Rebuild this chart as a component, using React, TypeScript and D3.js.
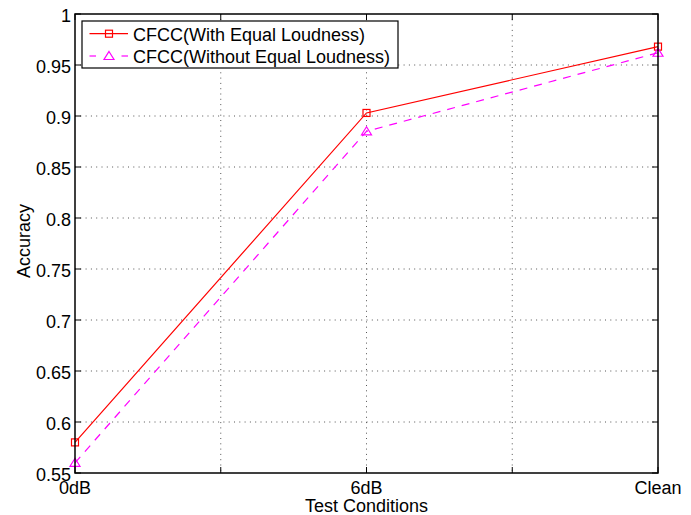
import React from "react";
import * as d3 from "d3";

const conditions = ["0dB", "6dB", "Clean"];
const withEqualLoudness = [0.58, 0.903, 0.968];
const withoutEqualLoudness = [0.56, 0.885, 0.962];
const yTicks = [0.55, 0.6, 0.65, 0.7, 0.75, 0.8, 0.85, 0.9, 0.95, 1];
const yTickLabels = ["0.55", "0.6", "0.65", "0.7", "0.75", "0.8", "0.85", "0.9", "0.95", "1"];
const xTicks = [0, 0.5, 1, 1.5, 2];
const seriesNames = ["CFCC(With Equal Loudness)", "CFCC(Without Equal Loudness)"];

const W = 691;
const H = 515;
const m = { left: 75, top: 14, right: 658, bottom: 473 };
const font = "Liberation Sans, Arial, Helvetica, sans-serif";
const fs = 18;

export default function App() {
  const x = d3.scaleLinear().domain([0, 2]).range([m.left, m.right]);
  const y = d3.scaleLinear().domain([0.55, 1]).range([m.bottom, m.top]);
  const line = d3
    .line<number>()
    .x((_, i) => x(i))
    .y((d) => y(d));

  // open triangle marker centred on (cx, cy)
  const tri = (cx: number, cy: number) =>
    `M${cx},${cy - 4.5}L${cx + 5},${cy + 3.5}L${cx - 5},${cy + 3.5}Z`;

  const tickLen = 6;
  const labelFor = (v: number) =>
    Math.abs(v - Math.round(v)) < 1e-9 ? conditions[Math.round(v)] : "";

  return (
    <svg
      width={W}
      height={H}
      style={{ position: "absolute", left: 0, top: 0, background: "#fff" }}
      fontFamily={font}
    >
      <rect x={0} y={0} width={W} height={H} fill="#fff" />
      {/* grid */}
      <g stroke="#555" strokeWidth={1} strokeDasharray="1,4.3">
        {yTicks.slice(1, -1).map((t) => (
          <line key={"gy" + t} x1={m.left} x2={m.right} y1={y(t)} y2={y(t)} />
        ))}
        {xTicks.slice(1, -1).map((t) => (
          <line key={"gx" + t} x1={x(t)} x2={x(t)} y1={m.top} y2={m.bottom} />
        ))}
      </g>
      {/* tick marks */}
      <g stroke="#000" strokeWidth={1}>
        {yTicks.map((t) => (
          <g key={"ty" + t}>
            <line x1={m.left} x2={m.left + tickLen} y1={y(t)} y2={y(t)} />
            <line x1={m.right} x2={m.right - tickLen} y1={y(t)} y2={y(t)} />
          </g>
        ))}
        {xTicks.map((t) => (
          <g key={"tx" + t}>
            <line x1={x(t)} x2={x(t)} y1={m.bottom} y2={m.bottom - tickLen} />
            <line x1={x(t)} x2={x(t)} y1={m.top} y2={m.top + tickLen} />
          </g>
        ))}
      </g>
      {/* series */}
      <path d={line(withEqualLoudness) || ""} fill="none" stroke="#ff0000" strokeWidth={1.2} />
      <path
        d={line(withoutEqualLoudness) || ""}
        fill="none"
        stroke="#ff00ff"
        strokeWidth={1.2}
        strokeDasharray="8,7"
      />
      {withEqualLoudness.map((v, i) => (
        <rect
          key={"sq" + i}
          x={x(i) - 3.5}
          y={y(v) - 3.5}
          width={7}
          height={7}
          fill="none"
          stroke="#ff0000"
          strokeWidth={1.2}
        />
      ))}
      {withoutEqualLoudness.map((v, i) => (
        <path key={"tr" + i} d={tri(x(i), y(v))} fill="none" stroke="#ff00ff" strokeWidth={1.2} />
      ))}
      {/* axes box */}
      <rect
        x={m.left}
        y={m.top}
        width={m.right - m.left}
        height={m.bottom - m.top}
        fill="none"
        stroke="#000"
        strokeWidth={1.5}
      />
      {/* tick labels */}
      <g fontSize={fs} fill="#000">
        {yTicks.map((t, i) => (
          <text key={"ly" + t} x={m.left - 4} y={y(t) + 7.5} textAnchor="end">
            {yTickLabels[i]}
          </text>
        ))}
        {xTicks.map((t) => (
          <text key={"lx" + t} x={x(t)} y={m.bottom + 21} textAnchor="middle">
            {labelFor(t)}
          </text>
        ))}
      </g>
      <text x={(m.left + m.right) / 2} y={512} textAnchor="middle" fontSize={fs}>
        Test Conditions
      </text>
      <text transform="translate(29.5,241) rotate(-90)" textAnchor="middle" fontSize={fs}>
        Accuracy
      </text>
      {/* legend */}
      <g>
        <rect x={82} y={21} width={316} height={47} fill="#fff" stroke="#000" strokeWidth={1.2} />
        <line x1={89.5} x2={128} y1={33.7} y2={33.7} stroke="#ff0000" strokeWidth={1.2} />
        <rect x={105.5} y={30.2} width={7} height={7} fill="none" stroke="#ff0000" strokeWidth={1.2} />
        <text x={133} y={41} fontSize={fs}>
          {seriesNames[0]}
        </text>
        <line x1={89.5} x2={96} y1={56} y2={56} stroke="#ff00ff" strokeWidth={1.2} />
        <line x1={121.5} x2={128} y1={56} y2={56} stroke="#ff00ff" strokeWidth={1.2} />
        <path d={tri(109, 56)} fill="none" stroke="#ff00ff" strokeWidth={1.2} />
        <text x={133} y={63} fontSize={fs}>
          {seriesNames[1]}
        </text>
      </g>
    </svg>
  );
}
